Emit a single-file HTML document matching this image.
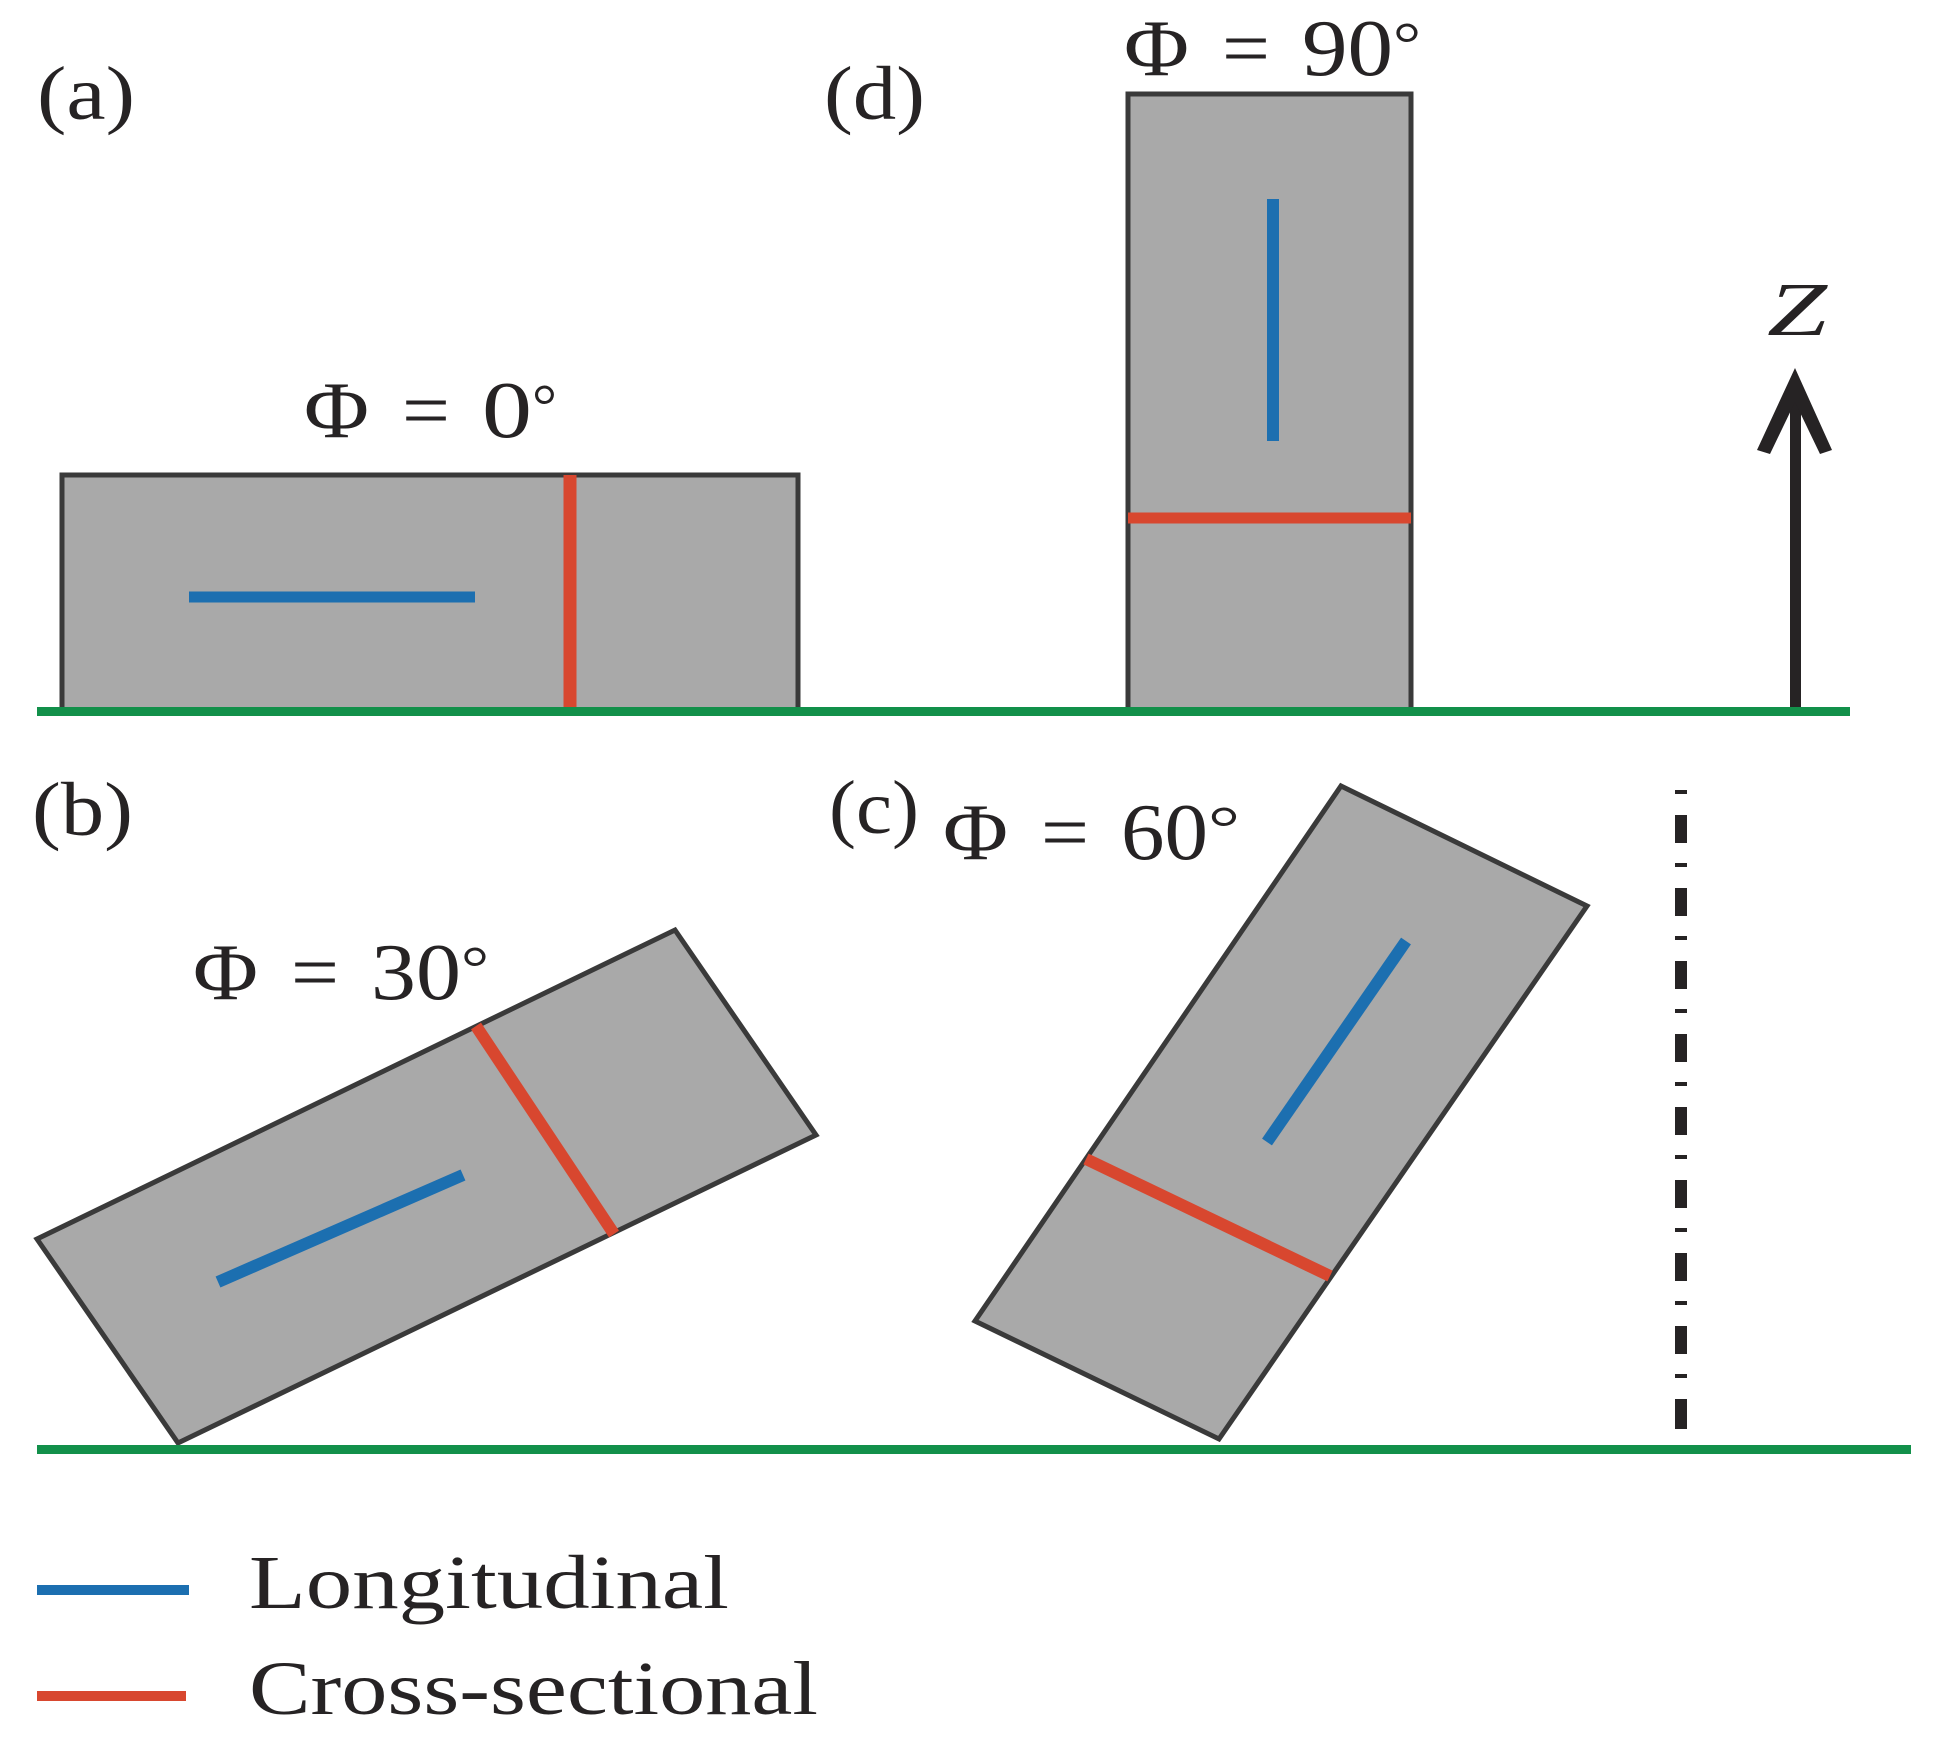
<!DOCTYPE html>
<html><head><meta charset="utf-8"><style>
html,body{margin:0;padding:0;background:#fff}
svg{display:block}
text{font-family:"Liberation Serif",serif;fill:#262324}
</style></head><body>
<svg width="1939" height="1741" viewBox="0 0 1939 1741" xmlns="http://www.w3.org/2000/svg">
<g fill="#a9a9a9" stroke="#3a3a3a" stroke-width="5" stroke-linejoin="miter">
<rect x="62" y="475" width="736" height="236"/>
<rect x="1128" y="94" width="283" height="617"/>
<polygon points="37,1239 675,930 816,1135 178,1443"/>
<polygon points="1341,786 1587,906 1219,1439 975,1321"/>
</g>
<g stroke-width="11" fill="none">
<g stroke="#1c6fb0">
<path d="M189 597H475"/><path d="M1273 199V441" stroke-width="12"/><path d="M218 1282L463 1175" stroke-width="12"/><path d="M1406 941L1267 1142" stroke-width="12"/><path d="M37 1590H189" stroke-width="10"/>
</g>
<g stroke="#d8472f">
<path d="M570 475V711" stroke-width="13"/><path d="M1128 518H1411"/><path d="M476 1026L614 1234" stroke-width="12"/><path d="M1086 1159L1330 1276" stroke-width="12"/><path d="M37 1696H186" stroke-width="10"/>
</g>
</g>
<rect x="1790" y="395" width="11" height="316" fill="#262324"/>
<polygon points="1795,368 1832,450 1820,454 1795,402 1770,454 1757,450" fill="#262324"/>
<g stroke="#262324" fill="none">
<path d="M1681 790V794M1681 863V867M1681 936V940M1681 1009V1013M1681 1082V1086M1681 1155V1159M1681 1228V1232M1681 1301V1305M1681 1374V1378M1681 1447V1451" stroke-width="12"/>
<path d="M1681 815V843M1681 888V916M1681 961V989M1681 1034V1062M1681 1107V1135M1681 1180V1208M1681 1253V1281M1681 1326V1354M1681 1399V1429" stroke-width="12"/>
</g>
<rect x="37" y="707" width="1813" height="9" fill="#12904a"/>
<rect x="37" y="1445" width="1874" height="9" fill="#12904a"/>
<g font-size="76">
<text x="37" y="119" textLength="98" lengthAdjust="spacingAndGlyphs">(a)</text>
<text x="824" y="119" textLength="101" lengthAdjust="spacingAndGlyphs">(d)</text>
<text x="32" y="835" textLength="101" lengthAdjust="spacingAndGlyphs">(b)</text>
<text x="829" y="833" textLength="90" lengthAdjust="spacingAndGlyphs">(c)</text>
</g>
<g font-size="80">
<text x="304" y="437" textLength="65" lengthAdjust="spacingAndGlyphs">Φ</text>
<text x="402" y="437" textLength="48" lengthAdjust="spacingAndGlyphs">=</text>
<text x="482" y="437" textLength="50" lengthAdjust="spacingAndGlyphs">0</text>
<text x="532" y="426" font-size="60" textLength="25" lengthAdjust="spacingAndGlyphs">°</text>
<text x="1124" y="75" textLength="65" lengthAdjust="spacingAndGlyphs">Φ</text>
<text x="1222" y="75" textLength="48" lengthAdjust="spacingAndGlyphs">=</text>
<text x="1302" y="75" textLength="91" lengthAdjust="spacingAndGlyphs">90</text>
<text x="1393" y="64" font-size="60" textLength="28" lengthAdjust="spacingAndGlyphs">°</text>
<text x="193" y="999" textLength="65" lengthAdjust="spacingAndGlyphs">Φ</text>
<text x="291" y="999" textLength="48" lengthAdjust="spacingAndGlyphs">=</text>
<text x="371" y="999" textLength="90" lengthAdjust="spacingAndGlyphs">30</text>
<text x="461" y="988" font-size="60" textLength="28" lengthAdjust="spacingAndGlyphs">°</text>
<text x="943" y="859" textLength="65" lengthAdjust="spacingAndGlyphs">Φ</text>
<text x="1041" y="859" textLength="48" lengthAdjust="spacingAndGlyphs">=</text>
<text x="1121" y="859" textLength="87" lengthAdjust="spacingAndGlyphs">60</text>
<text x="1208" y="848" font-size="60" textLength="32" lengthAdjust="spacingAndGlyphs">°</text>
</g>
<text x="1767" y="335" font-size="76" font-style="italic" textLength="60" lengthAdjust="spacingAndGlyphs">Z</text>
<text x="249" y="1608" font-size="76" textLength="480" lengthAdjust="spacingAndGlyphs">Longitudinal</text>
<text x="249" y="1714" font-size="76" textLength="569" lengthAdjust="spacingAndGlyphs">Cross-sectional</text>
</svg>
</body></html>
